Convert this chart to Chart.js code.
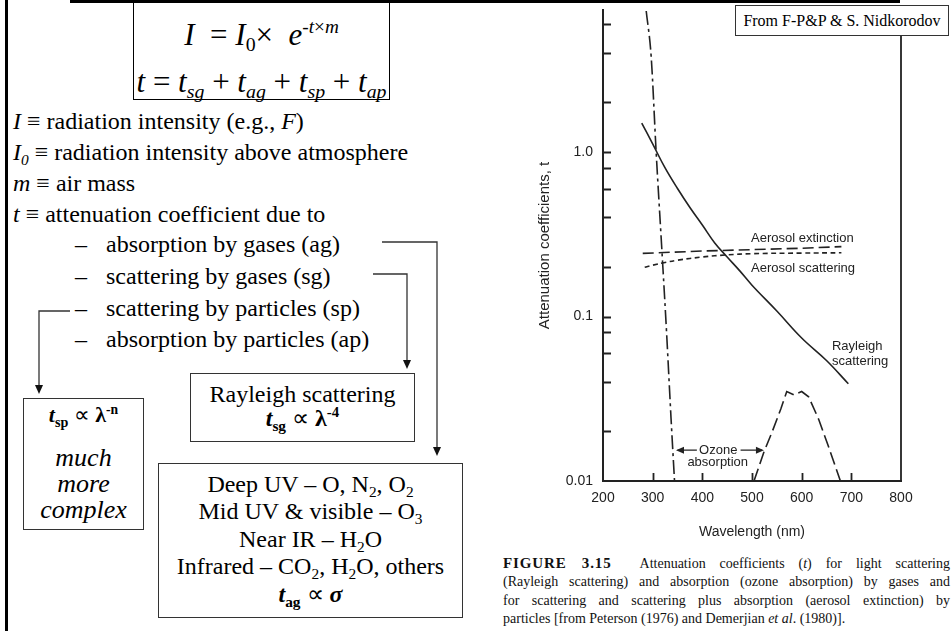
<!DOCTYPE html>
<html>
<head>
<meta charset="utf-8">
<title>Attenuation coefficients</title>
<script src="https://cdn.jsdelivr.net/npm/chart.js@4.4.0/dist/chart.umd.min.js"></script>
<style>
  body { margin: 0; background: #fff; }
  #page { position: relative; width: 951px; height: 631px; overflow: hidden; font-family: "Liberation Serif", "Times New Roman", serif; color: #000; }
  .abs { position: absolute; white-space: nowrap; }
  .sub { font-size: 0.64em; position: relative; top: 0.32em; }
  .sup { font-size: 0.62em; position: relative; top: -0.62em; }
  .line { font-size: 24px; line-height: 24px; height: 24px; }
  .box { position: absolute; border: 1px solid #333; box-sizing: border-box; display: flex; flex-direction: column; justify-content: center; align-items: center; text-align: center; font-size: 24px; background: #fff; white-space: nowrap; }
  .box div { line-height: 24.5px; }
  #eqbox { position: absolute; left: 133px; top: 3px; width: 257px; height: 97px; border: 1px solid #000; border-top: none; box-sizing: border-box; font-size: 31px; }
  #eqbox div { position: absolute; left: 0; right: 0; text-align: center; line-height: 32px; white-space: nowrap; }
  #chartWrap { position: absolute; left: 480px; top: 0; width: 471px; height: 545px; }
  #source { position: absolute; left: 735px; top: 5px; width: 214px; height: 31px; border: 1px solid #333; box-sizing: border-box; background: #fff; font-size: 16px; line-height: 29px; text-align: center; z-index: 2; }
  #caption { position: absolute; left: 503px; top: 554px; width: 447px; font-size: 14px; line-height: 18.3px; color: #111; }
  #caption div { text-align: justify; text-align-last: justify; white-space: nowrap; }
  #caption div.last { text-align-last: left; }
  #caption b { font-size: 15px; letter-spacing: 0.9px; }
</style>
</head>
<body>
<div id="page">
  <!-- slide frame -->
  <div class="abs" style="left:5px; top:0; width:3px; height:631px; background:#000;"></div>
  <div class="abs" style="left:70px; top:0; width:830px; height:3px; background:#000;"></div>

  <!-- Beer-Lambert equations -->
  <div id="eqbox">
    <div style="top:16px;"><i>I</i> &nbsp;= <i>I</i><span class="sub">0</span>× &nbsp;<i>e</i><span class="sup"><i>-t</i>×<i>m</i></span></div>
    <div style="top:63px;"><i>t</i> = <i>t</i><span class="sub"><i>sg</i></span> + <i>t</i><span class="sub"><i>ag</i></span> + <i>t</i><span class="sub"><i>sp</i></span> + <i>t</i><span class="sub"><i>ap</i></span></div>
  </div>

  <!-- definitions -->
  <div class="abs line" style="left:13px; top:109px;"><i>I</i> ≡ radiation intensity (e.g., <i>F</i>)</div>
  <div class="abs line" style="left:13px; top:140px;"><i>I<span class="sub">0</span></i> ≡ radiation intensity above atmosphere</div>
  <div class="abs line" style="left:13px; top:171px;"><i>m</i> ≡ air mass</div>
  <div class="abs line" style="left:13px; top:202px;"><i>t</i> ≡ attenuation coefficient due to</div>
  <div class="abs line" style="left:75px; top:232px;">–</div>
  <div class="abs line" style="left:106px; top:232px;">absorption by gases (ag)</div>
  <div class="abs line" style="left:75px; top:264px;">–</div>
  <div class="abs line" style="left:106px; top:264px;">scattering by gases (sg)</div>
  <div class="abs line" style="left:75px; top:296px;">–</div>
  <div class="abs line" style="left:106px; top:296px;">scattering by particles (sp)</div>
  <div class="abs line" style="left:75px; top:327px;">–</div>
  <div class="abs line" style="left:106px; top:327px;">absorption by particles (ap)</div>

  <!-- connectors -->
  <svg class="abs" style="left:0; top:0;" width="480" height="631">
    <g fill="none" stroke="#333" stroke-width="1.3">
      <polyline points="382,242 437,242 437,448"/>
      <polyline points="373,274 407,274 407,361"/>
      <polyline points="70,311 39,311 39,386"/>
    </g>
    <g fill="#111">
      <polygon points="433,447 441,447 437,456"/>
      <polygon points="403,360 411,360 407,369"/>
      <polygon points="35,385 43,385 39,394"/>
    </g>
  </svg>

  <div class="box" style="left:190px; top:373px; width:225px; height:69px;">
    <div>Rayleigh scattering</div>
    <div><b><i>t</i><span class="sub">sg</span></b> ∝ <b>λ<span class="sup">-4</span></b></div>
  </div>
  <div class="box" style="left:23px; top:398px; width:121px; height:132px; justify-content:flex-start; padding-top:1px;">
    <div style="font-size:22px; line-height:30px; margin-bottom:12px;"><b><i>t</i><span class="sub">sp</span></b> ∝ <b>λ<span class="sup">-n</span></b></div>
    <div style="font-size:26px; line-height:26px;"><i>much</i></div>
    <div style="font-size:26px; line-height:26px;"><i>more</i></div>
    <div style="font-size:26px; line-height:26px;"><i>complex</i></div>
  </div>
  <div class="box" style="left:158px; top:463px; width:305px; height:155px;">
    <div>Deep UV – O, N<span class="sub">2</span>, O<span class="sub">2</span></div>
    <div>Mid UV &amp; visible – O<span class="sub">3</span></div>
    <div>Near IR – H<span class="sub">2</span>O</div>
    <div>Infrared – CO<span class="sub">2</span>, H<span class="sub">2</span>O, others</div>
    <div><b><i>t</i><span class="sub">ag</span></b> ∝ <b><i>σ</i></b></div>
  </div>

  <!-- attenuation chart -->
  <div id="chartWrap"><canvas id="attenuationChart" width="471" height="545"></canvas></div>
  <div id="source">From F-P&amp;P &amp; S. Nidkorodov</div>

  <div id="caption">
    <div><b>FIGURE 3.15</b>&nbsp;&nbsp;Attenuation coefficients (<i>t</i>) for light scattering</div>
    <div>(Rayleigh scattering) and absorption (ozone absorption) by gases and</div>
    <div>for scattering and scattering plus absorption (aerosol extinction) by</div>
    <div class="last">particles [from Peterson (1976) and Demerjian <i>et al</i>. (1980)].</div>
  </div>
</div>

<script>
// axis ticks
const wavelengthTicks = [200, 300, 400, 500, 600, 700, 800];
const coefTicks = [0.01, 0.02, 0.04, 0.06, 0.08, 0.1, 0.2, 0.4, 0.6, 0.8, 1, 2, 4, 6];
const coefLabels = { 0.01: '0.01', 0.1: '0.1', 1: '1.0' };

// Rayleigh scattering by gases
const rayleighWl = [278, 300, 325, 350, 375, 400, 425, 450, 475, 500, 550, 600, 650, 694];
const rayleighT = [1.5, 1.12, 0.80, 0.60, 0.46, 0.36, 0.28, 0.23, 0.19, 0.155, 0.108, 0.074, 0.054, 0.039];

// aerosol extinction (scattering + absorption)
const extinctionWl = [280, 400, 500, 600, 680];
const extinctionT = [0.242, 0.25, 0.255, 0.26, 0.266];

// aerosol scattering
const scatteringWl = [284, 300, 325, 350, 400, 450, 500, 600, 680];
const scatteringT = [0.199, 0.205, 0.213, 0.22, 0.23, 0.237, 0.241, 0.243, 0.244];

// ozone absorption, UV edge
const ozoneUvWl = [287, 297, 307, 319, 328, 337, 344];
const ozoneUvT = [7.2, 3.8, 1.0, 0.24, 0.08, 0.024, 0.01];

// ozone absorption, Chappuis band
const chappuisWl = [504, 524, 540, 558, 570, 584, 600, 614, 634, 654, 678];
const chappuisT = [0.01, 0.015, 0.0197, 0.0274, 0.035, 0.0334, 0.035, 0.0325, 0.0238, 0.0162, 0.01];

const ink = '#222';
const sansFont = '"Liberation Sans", Arial, sans-serif';

function toPoints(xs, ys) {
    return xs.map((x, i) => ({ x: x, y: ys[i] }));
}

function curve(xs, ys, dash, mode, tension) {
    return {
        data: toPoints(xs, ys),
        borderColor: ink,
        borderWidth: 1.6,
        borderDash: dash,
        pointRadius: 0,
        fill: false,
        cubicInterpolationMode: mode,
        tension: tension
    };
}

// inward tick marks and the right-hand frame line
const frameTicks = {
    id: 'frameTicks',
    afterDatasetsDraw(chart) {
        const { ctx, chartArea: area, scales: { x, y } } = chart;
        ctx.save();
        ctx.strokeStyle = ink;
        ctx.lineWidth = 1.8;
        ctx.beginPath();
        coefTicks.forEach(v => {
            if (v === 0.01) return;
            const py = Math.round(y.getPixelForValue(v)) + 0.5;
            ctx.moveTo(area.left, py);
            ctx.lineTo(area.left + 8, py);
        });
        wavelengthTicks.slice(1, -1).forEach(v => {
            const px = Math.round(x.getPixelForValue(v)) + 0.5;
            ctx.moveTo(px, area.bottom);
            ctx.lineTo(px, area.bottom - 8);
        });
        ctx.moveTo(area.right, area.top);
        ctx.lineTo(area.right, area.bottom);
        ctx.stroke();
        ctx.restore();
    }
};

// curve labels and the ozone absorption arrows
const curveLabels = {
    id: 'curveLabels',
    afterDatasetsDraw(chart) {
        const { ctx, scales: { x, y } } = chart;
        const px = v => x.getPixelForValue(v);
        const py = v => y.getPixelForValue(v);
        ctx.save();
        ctx.fillStyle = ink;
        ctx.font = '13px ' + sansFont;
        ctx.textBaseline = 'middle';
        ctx.textAlign = 'left';
        ctx.fillText('Aerosol extinction', px(498), py(0.300));
        ctx.fillText('Aerosol scattering', px(498), py(0.197));
        ctx.fillText('Rayleigh', px(661), py(0.0662));
        ctx.fillText('scattering', px(661), py(0.0536));
        ctx.textAlign = 'center';
        ctx.fillText('Ozone', px(432), py(0.0154));
        ctx.fillText('absorption', px(431), py(0.0130));

        const ay = py(0.0154);
        ctx.strokeStyle = ink;
        ctx.lineWidth = 1.4;
        ctx.beginPath();
        ctx.moveTo(px(389), ay);
        ctx.lineTo(px(350), ay);
        ctx.moveTo(px(477), ay);
        ctx.lineTo(px(520), ay);
        ctx.stroke();
        const head = (tip, dir) => {
            ctx.beginPath();
            ctx.moveTo(tip, ay);
            ctx.lineTo(tip - dir * 8, ay - 3.5);
            ctx.lineTo(tip - dir * 8, ay + 3.5);
            ctx.closePath();
            ctx.fill();
        };
        head(px(347), -1);
        head(px(524), 1);
        ctx.restore();
    }
};

new Chart(document.getElementById('attenuationChart'), {
    type: 'line',
    data: {
        datasets: [
            curve(rayleighWl, rayleighT, [], 'default', 0.4),
            curve(extinctionWl, extinctionT, [11, 5], 'default', 0),
            curve(scatteringWl, scatteringT, [5, 3.5], 'default', 0.4),
            curve(ozoneUvWl, ozoneUvT, [14, 4, 3, 4], 'monotone', 0),
            curve(chappuisWl, chappuisT, [13, 5], 'default', 0)
        ]
    },
    options: {
        responsive: false,
        animation: false,
        events: [],
        layout: { padding: { top: 10, right: 50, left: 0, bottom: 0 } },
        plugins: {
            legend: { display: false },
            tooltip: { enabled: false }
        },
        scales: {
            x: {
                type: 'linear',
                min: 200,
                max: 800,
                afterBuildTicks: scale => { scale.ticks = wavelengthTicks.map(v => ({ value: v })); },
                afterFit: scale => { scale.height = 64; },
                grid: { display: false, drawTicks: false },
                border: { display: true, color: ink, width: 2 },
                ticks: { color: ink, font: { family: sansFont, size: 14 }, padding: 9, autoSkip: false, maxRotation: 0 },
                title: {
                    display: true,
                    text: 'Wavelength (nm)',
                    color: ink,
                    font: { family: sansFont, size: 14 },
                    padding: { top: 0, bottom: 4 }
                }
            },
            y: {
                type: 'logarithmic',
                min: 0.01,
                max: 7.3,
                afterBuildTicks: scale => { scale.ticks = coefTicks.map(v => ({ value: v })); },
                afterFit: scale => {
                    scale.width = 123;
                    // the empty top label should not push the plot down
                    scale.paddingTop = 0;
                    scale.paddingBottom = 0;
                },
                grid: { display: false, drawTicks: false },
                border: { display: true, color: ink, width: 2 },
                ticks: {
                    color: ink,
                    font: { family: sansFont, size: 14 },
                    padding: 10,
                    autoSkip: false,
                    callback: v => coefLabels[v] || ''
                },
                title: {
                    display: true,
                    text: 'Attenuation coefficients, t',
                    color: ink,
                    font: { family: sansFont, size: 15 },
                    padding: { top: 56, bottom: 0 }
                }
            }
        }
    },
    plugins: [frameTicks, curveLabels]
});
</script>
</body>
</html>
